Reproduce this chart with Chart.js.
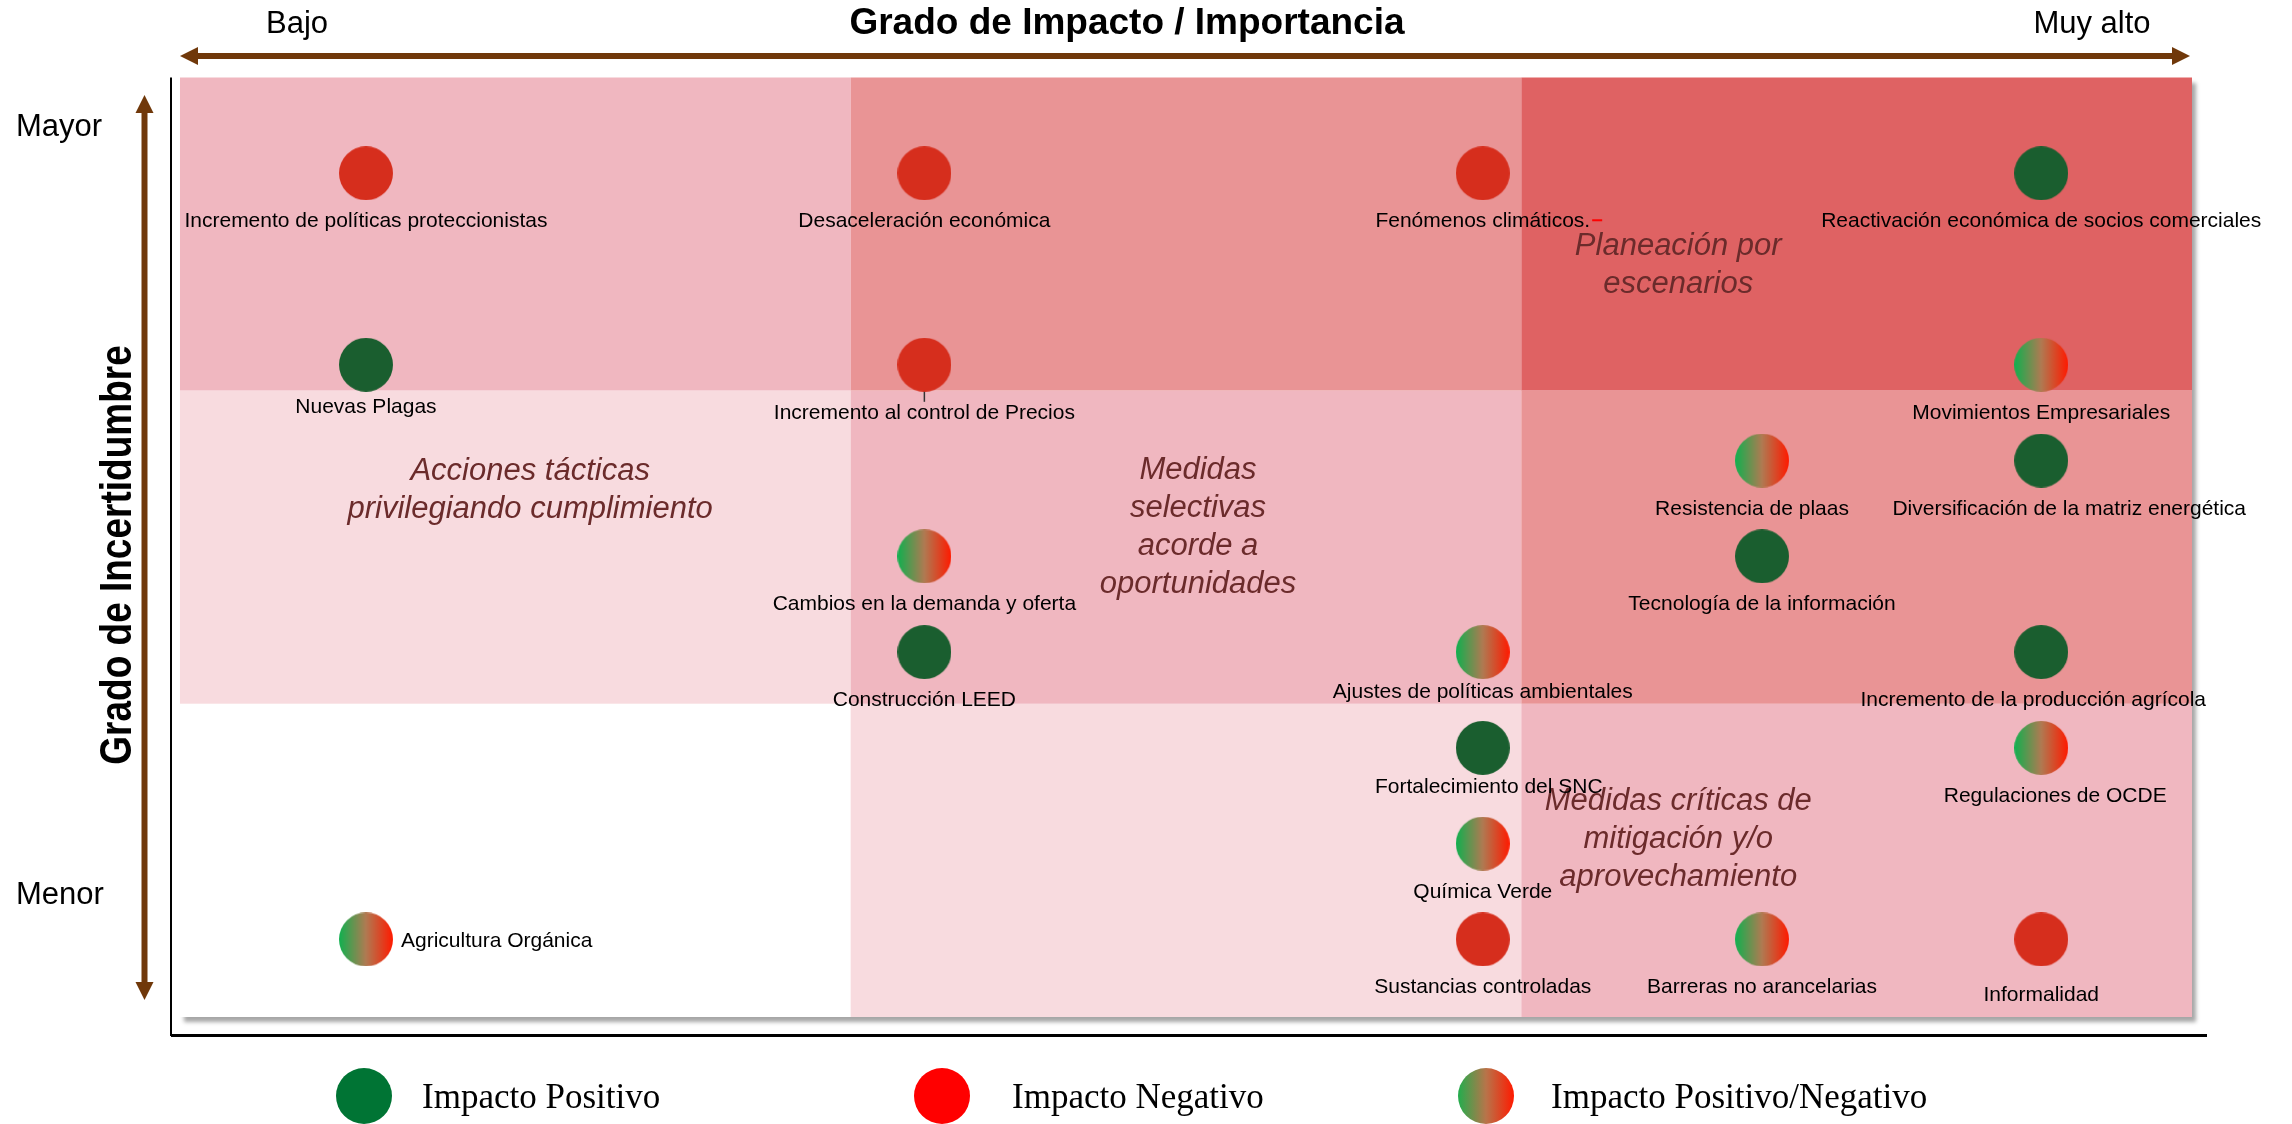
<!DOCTYPE html>
<html>
<head>
<meta charset="utf-8">
<script src="https://cdn.jsdelivr.net/npm/chart.js@4.4.1/dist/chart.umd.min.js"></script>
<style>
  html, body { margin: 0; padding: 0; background: #fff; }
</style>
</head>
<body>
<canvas id="riesgosChart" width="2292" height="1124"></canvas>
<script>
// datos de la matriz
const riesgos = [
    'Incremento de políticas proteccionistas', 'Desaceleración económica', 'Fenómenos climáticos.', 'Reactivación económica de socios comerciales',
    'Nuevas Plagas', 'Incremento al control de Precios', 'Movimientos Empresariales',
    'Resistencia de plaas', 'Diversificación de la matriz energética',
    'Cambios en la demanda y oferta', 'Tecnología de la información',
    'Construcción LEED', 'Ajustes de políticas ambientales', 'Incremento de la producción agrícola',
    'Fortalecimiento del SNC', 'Regulaciones de OCDE',
    'Química Verde',
    'Agricultura Orgánica', 'Sustancias controladas', 'Barreras no arancelarias', 'Informalidad']
const impacto = [1, 2, 3, 4, 1, 2, 4, 3.5, 4, 2, 3.5, 2, 3, 4, 3, 4, 3, 1, 3, 3.5, 4]
const incertidumbre = [9, 9, 9, 9, 7, 7, 7, 6, 6, 5, 5, 4, 4, 4, 3, 3, 2, 1, 1, 1, 1]
const tipo = ['N', 'N', 'N', 'P', 'P', 'N', 'PN', 'PN', 'P', 'PN', 'P', 'P', 'PN', 'P', 'P', 'PN', 'PN', 'PN', 'N', 'PN', 'N']
const tipos = ['P', 'N', 'PN']
const leyenda = ['Impacto Positivo', 'Impacto Negativo', 'Impacto Positivo/Negativo']
const ejeX = ['Bajo', 'Muy alto']
const ejeY = ['Mayor', 'Menor']
const tituloX = 'Grado de Impacto / Importancia'
const tituloY = 'Grado de Incertidumbre'
const zonas = [
    ['Acciones tácticas', 'privilegiando cumplimiento'],
    ['Medidas', 'selectivas', 'acorde a', 'oportunidades'],
    ['Planeación por', 'escenarios'],
    ['Medidas críticas de', 'mitigación y/o', 'aprovechamiento']]
const etiquetaDerecha = ['Agricultura Orgánica']

const SANS = '"Liberation Sans", Arial, sans-serif'
const SERIF = '"Liberation Serif", "Times New Roman", serif'

function bolita(t, r, legend) {
    const c = document.createElement('canvas')
    c.width = r * 2
    c.height = r * 2
    const ctx = c.getContext('2d')
    let fill
    if (t === 'PN') {
        fill = ctx.createLinearGradient(0, 0, r * 2, 0)
        fill.addColorStop(0, legend ? '#22ad4d' : '#10b04f')
        fill.addColorStop(0.5, legend ? '#b8744a' : '#b07a52')
        fill.addColorStop(1, '#ff1a00')
    } else if (t === 'P') {
        fill = legend ? '#007434' : '#1a5e2f'
    } else {
        fill = legend ? '#ff0000' : '#d62e1d'
    }
    ctx.fillStyle = fill
    ctx.beginPath()
    ctx.arc(r, r, r, 0, Math.PI * 2)
    ctx.fill()
    return c
}

const datasets = tipos.map((t, k) => {
    const idx = riesgos.map((_, i) => i).filter(i => tipo[i] === t)
    return {
        label: leyenda[k],
        data: idx.map(i => ({ x: impacto[i], y: incertidumbre[i], nombre: riesgos[i] })),
        pointStyle: bolita(t, 27, false),
        pointRadius: 27,
        pointHoverRadius: 27
    }
})

function flecha(ctx, x1, y1, x2, y2) {
    const ang = Math.atan2(y2 - y1, x2 - x1)
    const len = Math.hypot(x2 - x1, y2 - y1)
    ctx.save()
    ctx.translate(x1, y1)
    ctx.rotate(ang)
    ctx.fillStyle = '#70380a'
    ctx.fillRect(16, -3, len - 32, 6)
    ctx.beginPath(); ctx.moveTo(0, 0); ctx.lineTo(18, -9); ctx.lineTo(18, 9); ctx.closePath(); ctx.fill()
    ctx.beginPath(); ctx.moveTo(len, 0); ctx.lineTo(len - 18, -9); ctx.lineTo(len - 18, 9); ctx.closePath(); ctx.fill()
    ctx.restore()
}

const matrizPlugin = {
    id: 'matriz',
    beforeDatasetsDraw(chart) {
        const ctx = chart.ctx
        const a = chart.chartArea
        const sx = chart.scales.x, sy = chart.scales.y
        const colores = [
            ['#f0b7c0', '#e99495', '#df6263'],
            ['#f8dbdf', '#f0b7c0', '#e99495'],
            ['#ffffff', '#f8dbdf', '#f0b7c0']]
        ctx.save()
        // sombra del cuadro
        ctx.shadowColor = 'rgba(0,0,0,0.35)'
        ctx.shadowBlur = 4
        ctx.shadowOffsetX = 4
        ctx.shadowOffsetY = 5
        ctx.fillStyle = '#fff'
        ctx.fillRect(a.left, a.top, a.width, a.height)
        ctx.restore()

        const w = (sx.max - sx.min) / 3, h = (sy.max - sy.min) / 3
        for (let r = 0; r < 3; r++) {
            for (let c = 0; c < 3; c++) {
                const x0 = sx.getPixelForValue(sx.min + c * w)
                const x1 = sx.getPixelForValue(sx.min + (c + 1) * w)
                const y0 = sy.getPixelForValue(sy.max - r * h)
                const y1 = sy.getPixelForValue(sy.max - (r + 1) * h)
                ctx.fillStyle = colores[r][c]
                ctx.fillRect(x0, y0, x1 - x0, y1 - y0)
            }
        }

        // ejes negros
        ctx.save()
        ctx.strokeStyle = '#000'
        ctx.lineWidth = 2
        ctx.beginPath(); ctx.moveTo(a.left - 9, a.top); ctx.lineTo(a.left - 9, a.bottom + 19); ctx.stroke()
        ctx.lineWidth = 3
        ctx.beginPath(); ctx.moveTo(a.left - 9, a.bottom + 18.5); ctx.lineTo(a.right + 15, a.bottom + 18.5); ctx.stroke()
        ctx.restore()

        // flechas
        flecha(ctx, a.left, 56, a.right - 2, 56)
        flecha(ctx, 144.5, 95, 144.5, 1000)

        // textos de ejes
        ctx.save()
        ctx.fillStyle = '#000'
        ctx.font = '31px ' + SANS
        ctx.textAlign = 'center'
        ctx.textBaseline = 'alphabetic'
        ctx.fillText(ejeX[0], 297, 33)
        ctx.fillText(ejeX[1], 2092, 33)
        ctx.textAlign = 'left'
        ctx.fillText(ejeY[0], 16, 136)
        ctx.fillText(ejeY[1], 16, 904)

        ctx.font = 'bold 37px ' + SANS
        ctx.textAlign = 'center'
        ctx.fillText(tituloX, 1127, 34)

        ctx.save()
        ctx.translate(131, 555)
        ctx.rotate(-Math.PI / 2)
        ctx.scale(1, 1.2)
        ctx.font = 'bold 37px ' + SANS
        ctx.textAlign = 'center'
        ctx.fillText(tituloY, 0, 0)
        ctx.restore()

        // notas de cada zona
        const anclas = [[1.294, 5.69], [2.49, 5.30], [3.35, 8.04], [3.35, 2.04]]
        ctx.fillStyle = '#6b2b2b'
        ctx.font = 'italic 31px ' + SANS
        ctx.textAlign = 'center'
        ctx.textBaseline = 'middle'
        zonas.forEach((lineas, i) => {
            const cx = sx.getPixelForValue(anclas[i][0])
            const cy = sy.getPixelForValue(anclas[i][1])
            const lh = 38
            lineas.forEach((txt, j) => {
                ctx.fillText(txt, cx, cy + (j - (lineas.length - 1) / 2) * lh)
            })
        })
        ctx.restore()
    },
    afterDatasetsDraw(chart) {
        const ctx = chart.ctx
        // pequeños corrimientos de etiquetas [dx, dy] para que no se encimen
        const corrimiento = {
            'Diversificación de la matriz energética': [28, 0],
            'Resistencia de plaas': [-10, 0],
            'Regulaciones de OCDE': [14, 0],
            'Incremento de la producción agrícola': [-8, 0],
            'Fortalecimiento del SNC': [6, -9],
            'Ajustes de políticas ambientales': [0, -8],
            'Nuevas Plagas': [0, -6],
            'Informalidad': [0, 8]
        }
        ctx.save()
        ctx.fillStyle = '#000'
        ctx.font = '21px ' + SANS
        ctx.textBaseline = 'alphabetic'
        chart.data.datasets.forEach((ds, k) => {
            const meta = chart.getDatasetMeta(k)
            meta.data.forEach((pt, i) => {
                const nombre = ds.data[i].nombre
                if (etiquetaDerecha.includes(nombre)) {
                    ctx.textAlign = 'left'
                    ctx.fillText(nombre, pt.x + 35, pt.y + 8)
                    return
                }
                const d = corrimiento[nombre] || [0, 0]
                ctx.textAlign = 'center'
                ctx.fillText(nombre, pt.x + d[0], pt.y + 54 + d[1])
                if (nombre === 'Incremento al control de Precios') {
                    ctx.save()
                    ctx.strokeStyle = '#333'
                    ctx.lineWidth = 1.5
                    ctx.beginPath(); ctx.moveTo(pt.x, pt.y + 27); ctx.lineTo(pt.x, pt.y + 37); ctx.stroke()
                    ctx.restore()
                }
                if (nombre === 'Fenómenos climáticos.') {
                    const fin = pt.x + ctx.measureText(nombre).width / 2
                    ctx.save()
                    ctx.fillStyle = '#ff0000'
                    ctx.fillRect(fin + 2, pt.y + 46, 10, 2)
                    ctx.restore()
                }
            })
        })

        // leyenda
        const lx = [364, 942, 1486]
        const tx = [422, 1012, 1551]
        ctx.font = '35px ' + SERIF
        ctx.textAlign = 'left'
        tipos.forEach((t, k) => {
            ctx.drawImage(bolita(t, 28, true), lx[k] - 28, 1096 - 28)
            ctx.fillText(leyenda[k], tx[k], 1108)
        })
        ctx.restore()
    }
}

const riesgosChart = new Chart(document.getElementById('riesgosChart').getContext('2d'), {
    type: 'scatter',
    data: { datasets: datasets },
    options: {
        responsive: false,
        animation: false,
        layout: {
            padding: { left: 180, top: 77.5, right: 100, bottom: 107 }
        },
        scales: {
            x: { type: 'linear', min: 0.667, max: 4.27, display: false },
            y: { type: 'linear', min: 0.19, max: 10, display: false }
        },
        plugins: {
            legend: { display: false },
            tooltip: { enabled: false }
        }
    },
    plugins: [matrizPlugin]
})
</script>
</body>
</html>
